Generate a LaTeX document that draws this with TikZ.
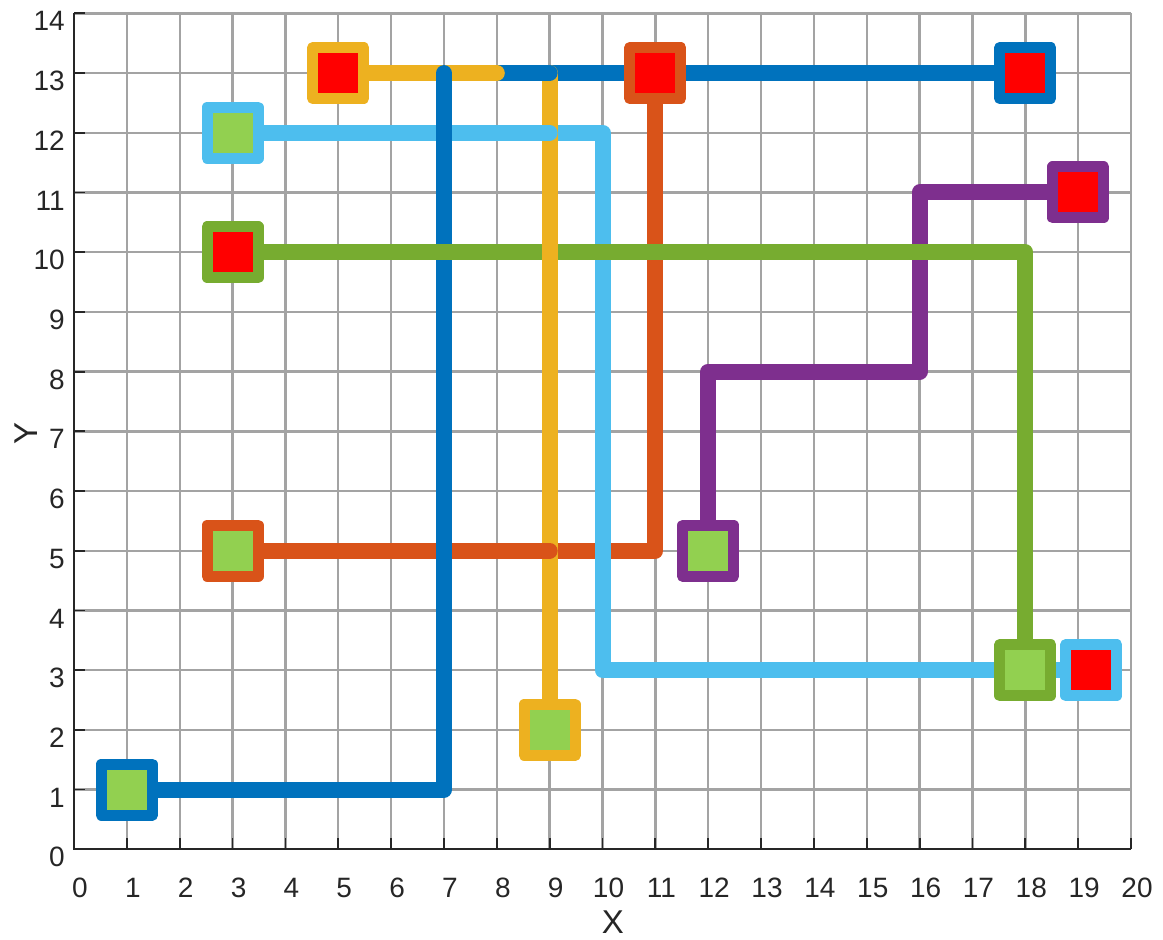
\documentclass[tikz,border=0pt]{standalone}
\usepackage{fontspec}
\setmainfont{Liberation Sans}
\usepackage{tikz}
\usetikzlibrary{positioning}
\definecolor{pblue}{RGB}{0,114,189}
\definecolor{porange}{RGB}{217,83,25}
\definecolor{pyellow}{RGB}{237,177,32}
\definecolor{ppurple}{RGB}{126,47,142}
\definecolor{pgreen}{RGB}{119,172,48}
\definecolor{plblue}{RGB}{77,190,238}
\definecolor{srcfill}{RGB}{146,208,80}
\definecolor{dstfill}{RGB}{255,0,0}
\definecolor{axiscolor}{RGB}{38,38,38}

\begin{document}
\begin{tikzpicture}[
  x=52.85pt, y=59.71pt,
  gridln/.style={black!36, line width=2.4pt},
  axisln/.style={axiscolor, line width=2pt},
  tickln/.style={axiscolor, line width=1.8pt},
  xlbl/.style={anchor=base, inner sep=0pt, xshift=6pt, yshift=-48pt, text=axiscolor, font=\fontsize{28}{30}\selectfont},
  ylbl/.style={anchor=east, inner sep=0pt, xshift=-9pt, yshift=-8pt, text=axiscolor, font=\fontsize{28}{30}\selectfont},
  axlbl/.style={inner sep=0pt, text=axiscolor, font=\fontsize{33}{36}\selectfont},
  route/.style={line width=16pt, line cap=round, line join=round},
  sq/.style={rectangle, draw, line width=11pt, line join=round, minimum size=51pt, inner sep=0pt},
]
\useasboundingbox (-74pt,-90.7pt) rectangle (1089pt,849.3pt);
% grid
\foreach \i in {1,...,20} \draw[gridln] (\i,0) -- (\i,14);
\foreach \j in {1,...,14} \draw[gridln] (0,\j) -- (20,\j);
% axes, ticks and tick labels
\draw[axisln] (0,14) -- (0,0) -- (20,0);
\foreach \i in {0,...,20} {
  \draw[tickln] (\i,0) -- ++(0,11pt);
  \node[xlbl] (xt\i) at (\i,0) {\i};
}
\foreach \j in {0,...,14} {
  \draw[tickln] (0,\j) -- ++(11pt,0);
  \node[ylbl] (yt\j) at (0,\j) {\j};
}
\node[axlbl] (xlabel) at (539pt,-73.2pt) {X};
\node[axlbl, rotate=90] (ylabel) at (-47.5pt,415.3pt) {Y};

% route end points
\coordinate (blueA) at (1,1);     \coordinate (blueB) at (18,13);
\coordinate (lblueA) at (3,12);   \coordinate (lblueB) at (19.25,3);
\coordinate (orangeA) at (3,5);   \coordinate (orangeB) at (11,13);
\coordinate (yellowA) at (9,2);   \coordinate (yellowB) at (5,13);
\coordinate (greenA) at (18,3);   \coordinate (greenB) at (3,10);
\coordinate (purpleA) at (12,5);  \coordinate (purpleB) at (19,11);

% routes
\draw[route, porange] (orangeA) -| (orangeB);
\draw[route, plblue] (lblueA) -| (10,3) -- (lblueB);
\draw[route, pblue] (blueA) -| (7,13) -- (blueB);
\draw[route, ppurple] (purpleA) |- (16,8) |- (purpleB);
\draw[route, pgreen] (greenA) |- (greenB);
\draw[route, pyellow] (yellowA) |- (yellowB);
% pieces lying on top at crossings
\draw[route, plblue] (8,12) -- (9,12);
\draw[route, porange] (8,5) -- (9,5);
\draw[route, pblue] (8,13) -- (9,13);
\draw[route, pyellow] (yellowB) -- (8,13);
\draw[route, pblue] (7,12) -- (7,13);

% markers
\node[sq, draw=pblue, fill=srcfill] (blueAsq) at (blueA) {};
\node[sq, draw=pblue, fill=dstfill] (blueBsq) at (blueB) {};
\node[sq, draw=plblue, fill=srcfill] (lblueAsq) at (lblueA) {};
\node[sq, draw=plblue, fill=dstfill] (lblueBsq) at (lblueB) {};
\node[sq, draw=porange, fill=srcfill] (orangeAsq) at (orangeA) {};
\node[sq, draw=porange, fill=dstfill] (orangeBsq) at (orangeB) {};
\node[sq, draw=pyellow, fill=srcfill] (yellowAsq) at (yellowA) {};
\node[sq, draw=pyellow, fill=dstfill] (yellowBsq) at (yellowB) {};
\node[sq, draw=pgreen, fill=srcfill] (greenAsq) at (greenA) {};
\node[sq, draw=pgreen, fill=dstfill] (greenBsq) at (greenB) {};
\node[sq, draw=ppurple, fill=srcfill] (purpleAsq) at (purpleA) {};
\node[sq, draw=ppurple, fill=dstfill] (purpleBsq) at (purpleB) {};
\end{tikzpicture}
\end{document}
